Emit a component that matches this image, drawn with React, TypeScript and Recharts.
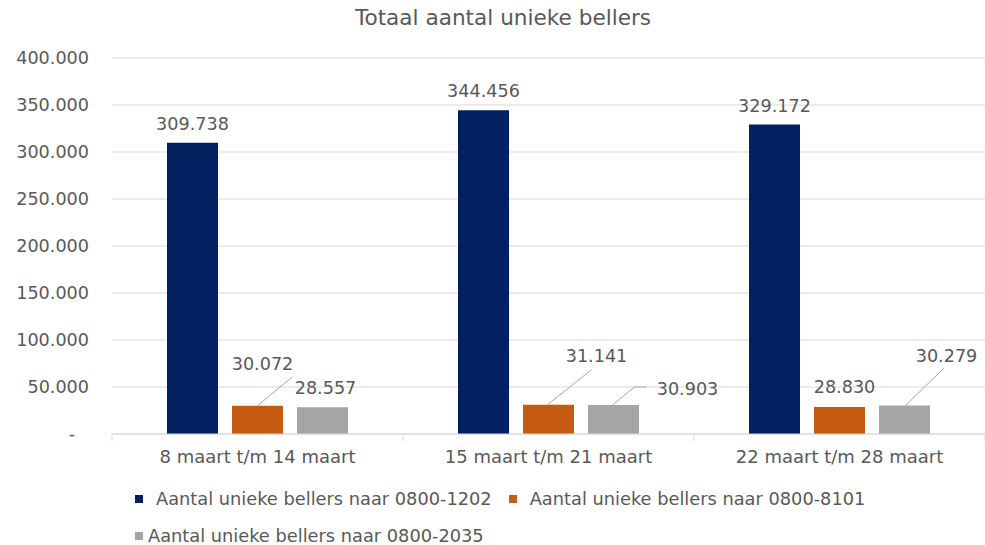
import React from "react";
import { BarChart, Bar, XAxis, YAxis, CartesianGrid, Legend, LabelList } from "recharts";

const CATEGORIES = ["8 maart t/m 14 maart", "15 maart t/m 21 maart", "22 maart t/m 28 maart"];
const BELLERS_1202 = [309738, 344456, 329172];
const BELLERS_8101 = [30072, 31141, 28830];
const BELLERS_2035 = [28557, 30903, 30279];
const Y_TICKS = [0, 50000, 100000, 150000, 200000, 250000, 300000, 350000, 400000];

const SERIES = [
  { key: "n1202", name: "Aantal unieke bellers naar 0800-1202", color: "#002060" },
  { key: "n8101", name: "Aantal unieke bellers naar 0800-8101", color: "#C55A11" },
  { key: "n2035", name: "Aantal unieke bellers naar 0800-2035", color: "#A5A5A5" },
];

// label placement relative to bar top-center (Excel moved some labels, with leader lines)
type LabelPos = { dx: number; dy: number; leader?: [number, number][] };
const LABEL_POS: Record<string, LabelPos[]> = {
  n1202: [
    { dx: 0, dy: -19 },
    { dx: 0, dy: -19 },
    { dx: 0, dy: -19 },
  ],
  n8101: [
    { dx: 5, dy: -42, leader: [[0, 0], [35, -29]] },
    { dx: 48, dy: -49, leader: [[-1, 0], [43, -35]] },
    { dx: 5, dy: -20 },
  ],
  n2035: [
    { dx: 3, dy: -19 },
    { dx: 74, dy: -16, leader: [[-1, 0], [21, -18], [33, -18]] },
    { dx: 42, dy: -50, leader: [[1, 0], [39, -37]] },
  ],
};

const data = CATEGORIES.map((c, i) => ({
  name: c,
  n1202: BELLERS_1202[i],
  n8101: BELLERS_8101[i],
  n2035: BELLERS_2035[i],
}));

const W = 985;
const H = 545;
const PLOT_LEFT = 112;
const PLOT_RIGHT = 0;
const BAND = (W - PLOT_LEFT - PLOT_RIGHT) / CATEGORIES.length;
const AXIS_Y = 434;
const TEXT = "#595959";
const FONT = "'DejaVu Sans', Verdana, sans-serif";

const fmt = (v: number) => String(v).replace(/\B(?=(\d{3})+(?!\d))/g, ".");

const YTick = (props: any) => {
  const { x, y, payload } = props;
  const v = payload.value;
  return (
    <text
      x={v === 0 ? x - 14 : x}
      y={y}
      textAnchor="end"
      dominantBaseline="central"
      fill={TEXT}
      fontSize={17.6}
      fontFamily={FONT}
    >
      {v === 0 ? "-" : fmt(v)}
    </text>
  );
};

const XTick = (props: any) => {
  const { x, y, payload, index } = props;
  const left = payload.coordinate - BAND / 2;
  const right = payload.coordinate + BAND / 2;
  return (
    <g>
      <line x1={left} x2={left} y1={AXIS_Y} y2={AXIS_Y + 7} stroke="#d9d9d9" />
      {index === CATEGORIES.length - 1 && (
        <line x1={right} x2={right} y1={AXIS_Y} y2={AXIS_Y + 7} stroke="#d9d9d9" />
      )}
      <text
        x={x}
        y={y}
        dy="0.71em"
        textAnchor="middle"
        fill={TEXT}
        fontSize={18}
        fontFamily={FONT}
      >
        {payload.value}
      </text>
    </g>
  );
};

const makeLabel = (key: string) => (props: any) => {
  const { x, y, width, value, index } = props;
  const cx = Number(x) + Number(width) / 2;
  const top = Number(y);
  const pos = LABEL_POS[key][index];
  return (
    <g>
      {pos.leader && (
        <polyline
          points={pos.leader.map(([a, b]) => `${cx + a},${top + b}`).join(" ")}
          fill="none"
          stroke="#a6a6a6"
          strokeWidth={1}
        />
      )}
      <text
        x={cx + pos.dx}
        y={top + pos.dy}
        textAnchor="middle"
        dominantBaseline="central"
        fill={TEXT}
        fontSize={17.6}
        fontFamily={FONT}
      >
        {fmt(value)}
      </text>
    </g>
  );
};

const LEGEND_GAP = [13, 13, 5];

const LegendContent = () => (
  <div
    style={{
      display: "flex",
      flexWrap: "wrap",
      width: 760,
      rowGap: 15,
      columnGap: 17,
      fontFamily: FONT,
      fontSize: 17.8,
      color: TEXT,
      lineHeight: "22px",
    }}
  >
    {SERIES.map((s, i) => (
      <div key={s.key} style={{ display: "flex", alignItems: "center" }}>
        <span
          style={{
            display: "inline-block",
            width: 8,
            height: 8,
            background: s.color,
            marginRight: LEGEND_GAP[i],
          }}
        />
        <span>{s.name}</span>
      </div>
    ))}
  </div>
);

export default function App() {
  return (
    <div style={{ position: "absolute", left: 0, top: 0, width: W, height: H, background: "#fff" }}>
      <div
        style={{
          position: "absolute",
          left: 0,
          top: 5,
          width: 1006,
          height: 26,
          lineHeight: "26px",
          textAlign: "center",
          fontFamily: FONT,
          fontSize: 21.6,
          color: TEXT,
        }}
      >
        Totaal aantal unieke bellers
      </div>
      <BarChart
        width={W}
        height={H}
        data={data}
        margin={{ top: 58, right: PLOT_RIGHT, bottom: H - AXIS_Y - 30, left: 0 }}
        barSize={51}
        barGap={14}
      >
        <CartesianGrid vertical={false} stroke="#d9d9d9" />
        <XAxis
          dataKey="name"
          height={30}
          axisLine={{ stroke: "#d9d9d9" }}
          tickLine={false}
          tickSize={6}
          tickMargin={10}
          tick={<XTick />}
          interval={0}
        />
        <YAxis
          width={PLOT_LEFT}
          domain={[0, 400000]}
          ticks={Y_TICKS}
          axisLine={false}
          tickLine={false}
          tickSize={6}
          tickMargin={17}
          tick={<YTick />}
          interval={0}
        />
        <Legend
          verticalAlign="middle"
          align="center"
          wrapperStyle={{ top: 488, left: 135, width: 760 }}
          content={<LegendContent />}
        />
        {SERIES.map((s) => (
          <Bar key={s.key} dataKey={s.key} name={s.name} fill={s.color} isAnimationActive={false}>
            <LabelList dataKey={s.key} content={makeLabel(s.key)} />
          </Bar>
        ))}
      </BarChart>
    </div>
  );
}
